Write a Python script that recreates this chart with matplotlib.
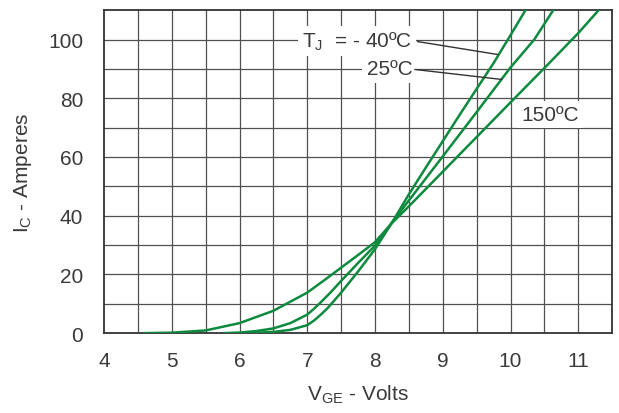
import matplotlib
matplotlib.use("Agg")
import matplotlib.pyplot as plt
import numpy as np

plt.rcParams['font.family'] = ['Liberation Sans', 'DejaVu Sans']
plt.rcParams['mathtext.fontset'] = 'custom'
plt.rcParams['mathtext.rm'] = 'Liberation Sans'
plt.rcParams['mathtext.it'] = 'Liberation Sans'

# VGE (V) vs IC (A), one pair of lists per junction temperature
v_m40 = [6.1, 6.5, 6.75, 7.0, 7.1, 7.2, 7.3, 7.5, 7.75, 8.0, 8.25, 8.5, 8.75, 9.0,
         9.25, 9.5, 9.75, 10.0, 10.22]
i_m40 = [0, 0.4, 1.1, 2.7, 4.3, 6.3, 8.5, 13.8, 21.0, 28.6, 37.6, 47.3, 56.4, 65.4,
         74.4, 83.2, 92.0, 101.5, 110]

v_25 = [5.78, 6.0, 6.25, 6.5, 6.75, 7.0, 7.1, 7.2, 7.35, 7.5, 7.75, 8.0, 8.25, 8.5,
        9.0, 9.5, 10.0, 10.35, 10.63]
i_25 = [0, 0.2, 0.7, 1.6, 3.4, 6.3, 8.3, 10.5, 14.0, 17.8, 23.9, 29.8, 37.7, 45.2,
        60.2, 75.3, 90.5, 100, 110]

v_150 = [4.6, 5.0, 5.5, 6.0, 6.5, 7.0, 7.25, 7.5, 7.75, 8.0, 8.25, 8.5, 9.0, 9.5,
         10.0, 10.5, 11.0, 11.3]
i_150 = [0, 0.15, 0.9, 3.4, 7.6, 13.8, 18.0, 22.3, 26.6, 31.0, 37.5, 43.2, 55.0, 66.8,
         78.6, 90.3, 102.2, 110]

x_ticks = [4, 5, 6, 7, 8, 9, 10, 11]
y_ticks = [0, 20, 40, 60, 80, 100]

green = '#0e8a3e'
txt = '#3a3a3a'

fig = plt.figure(figsize=(6.19, 4.14), dpi=100)
ax = fig.add_axes([0.168, 0.193, 0.821, 0.780])

# grid every 0.5 V and 10 A
for x in np.arange(4.5, 11.5, 0.5):
    ax.axvline(x, color='#505050', lw=0.9, zorder=1)
for y in np.arange(10, 110, 10):
    ax.axhline(y, color='#505050', lw=0.9, zorder=1)

for v, i in [(v_m40, i_m40), (v_25, i_25), (v_150, i_150)]:
    ax.plot(v, i, color=green, lw=1.8, zorder=3, solid_joinstyle='round')

ax.set_xlim(4, 11.5)
ax.set_ylim(0, 110)
ax.set_xticks(x_ticks)
ax.set_yticks(y_ticks)
ax.tick_params(length=0, labelsize=15, colors=txt)
ax.tick_params(axis='x', pad=13)
ax.tick_params(axis='y', pad=15)
for s in ax.spines.values():
    s.set_color('#333333')
    s.set_linewidth(1.3)

ax.set_xlabel('V$_{\\rm GE}$ - Volts', fontsize=15, color=txt, labelpad=9)
ax.set_ylabel('I$_{\\rm C}$ - Amperes', fontsize=15, color=txt, labelpad=10)

box = dict(facecolor='white', edgecolor='none', pad=3)
ax.text(8.55, 99.5, 'T$_{\\rm J}$  = - 40ºC', fontsize=15, color=txt,
        ha='right', va='center', bbox=box, zorder=4)
ax.plot([8.63, 9.81], [99.3, 94.9], color='#333333', lw=1.0, zorder=4)
ax.text(8.55, 90.0, '25ºC', fontsize=15, color=txt,
        ha='right', va='center', bbox=box, zorder=4)
ax.plot([8.59, 9.87], [89.8, 86.4], color='#333333', lw=1.0, zorder=4)
ax.text(10.58, 74.5, '150ºC', fontsize=15, color=txt,
        ha='center', va='center', bbox=box, zorder=4)

fig.savefig('out.png', dpi=100)
